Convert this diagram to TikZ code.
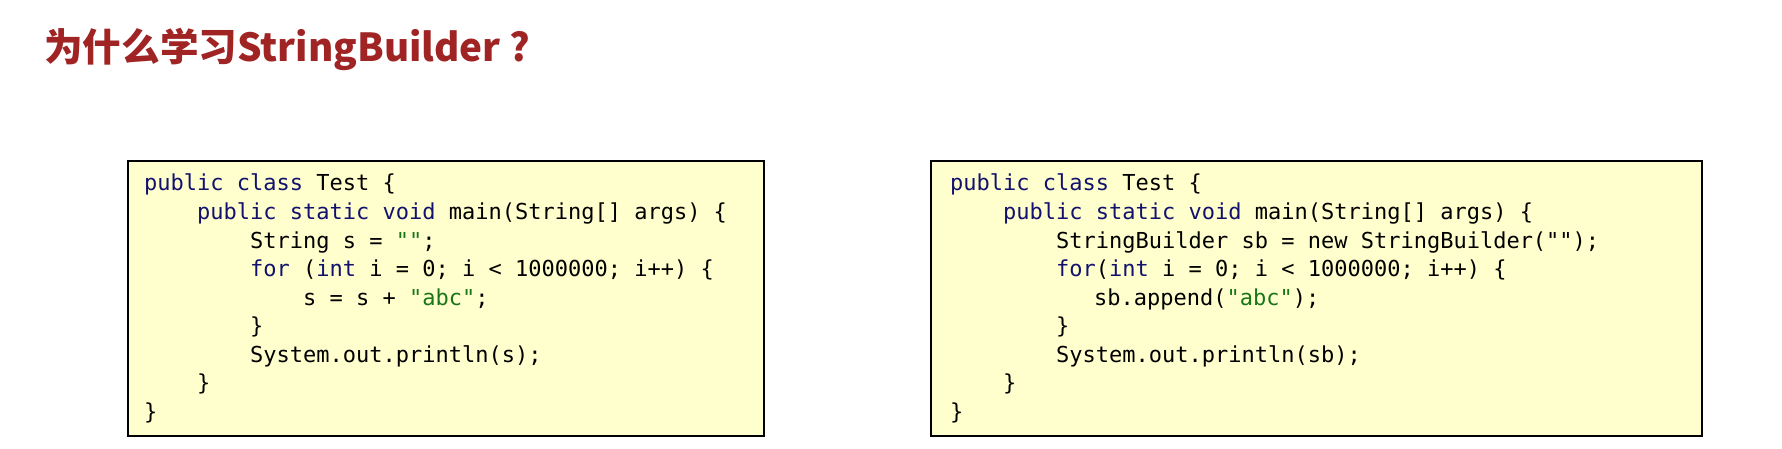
\documentclass[tikz,border=0pt]{standalone}
\usepackage{fontspec}
\setmonofont{DejaVu Sans Mono}
\newfontfamily\cjk{Noto Sans CJK SC}

\definecolor{titlered}{RGB}{160,36,36}
\definecolor{kwblue}{RGB}{18,18,110}
\definecolor{strgreen}{RGB}{24,118,24}
\definecolor{codebg}{RGB}{255,255,206}
\newcommand{\kw}[1]{\textcolor{kwblue}{#1}}
\newcommand{\jstr}[1]{\textcolor{strgreen}{#1}}

\begin{document}
\begin{tikzpicture}[x=1pt,y=-1pt,
	codebox/.style={draw=black,line width=2pt,fill=codebg,inner sep=0pt,anchor=north west},
	codeline/.style={anchor=base west,inner sep=0pt,font=\ttfamily\fontsize{22}{26}\selectfont}]
	\useasboundingbox (0,0) rectangle (1782,449);
	\node [anchor=base west,inner sep=0pt,text=titlered,font=\cjk\bfseries\fontsize{38.6}{44}\selectfont] (title) at (44,62) {为什么学习StringBuilder ?};
	\node [codebox,minimum width=636,minimum height=275] (leftbox) at (127,160) {};
	\node [codebox,minimum width=771,minimum height=275] (rightbox) at (930,160) {};
	\foreach \x/\txt [count=\i] in {
		144/{\kw{public} \kw{class} Test \{},
		197/{\kw{public} \kw{static} \kw{void} main(String[] args) \{},
		250/{String s = \jstr{""};},
		250/{\kw{for} (\kw{int} i = 0; i < 1000000; i++) \{},
		303/{s = s + \jstr{"abc"};},
		250/{\}},
		250/{System.out.println(s);},
		197/{\}},
		144/{\}}}
		\node [codeline] (leftline\i) at (\x,{191+28.5*(\i-1)}) {\txt};
	\foreach \x/\txt [count=\i] in {
		950/{\kw{public} \kw{class} Test \{},
		1003/{\kw{public} \kw{static} \kw{void} main(String[] args) \{},
		1056/{StringBuilder sb = new StringBuilder("");},
		1056/{\kw{for}(\kw{int} i = 0; i < 1000000; i++) \{},
		1094/{sb.append(\jstr{"abc"});},
		1056/{\}},
		1056/{System.out.println(sb);},
		1003/{\}},
		950/{\}}}
		\node [codeline] (rightline\i) at (\x,{191+28.5*(\i-1)}) {\txt};
\end{tikzpicture}
\end{document}
